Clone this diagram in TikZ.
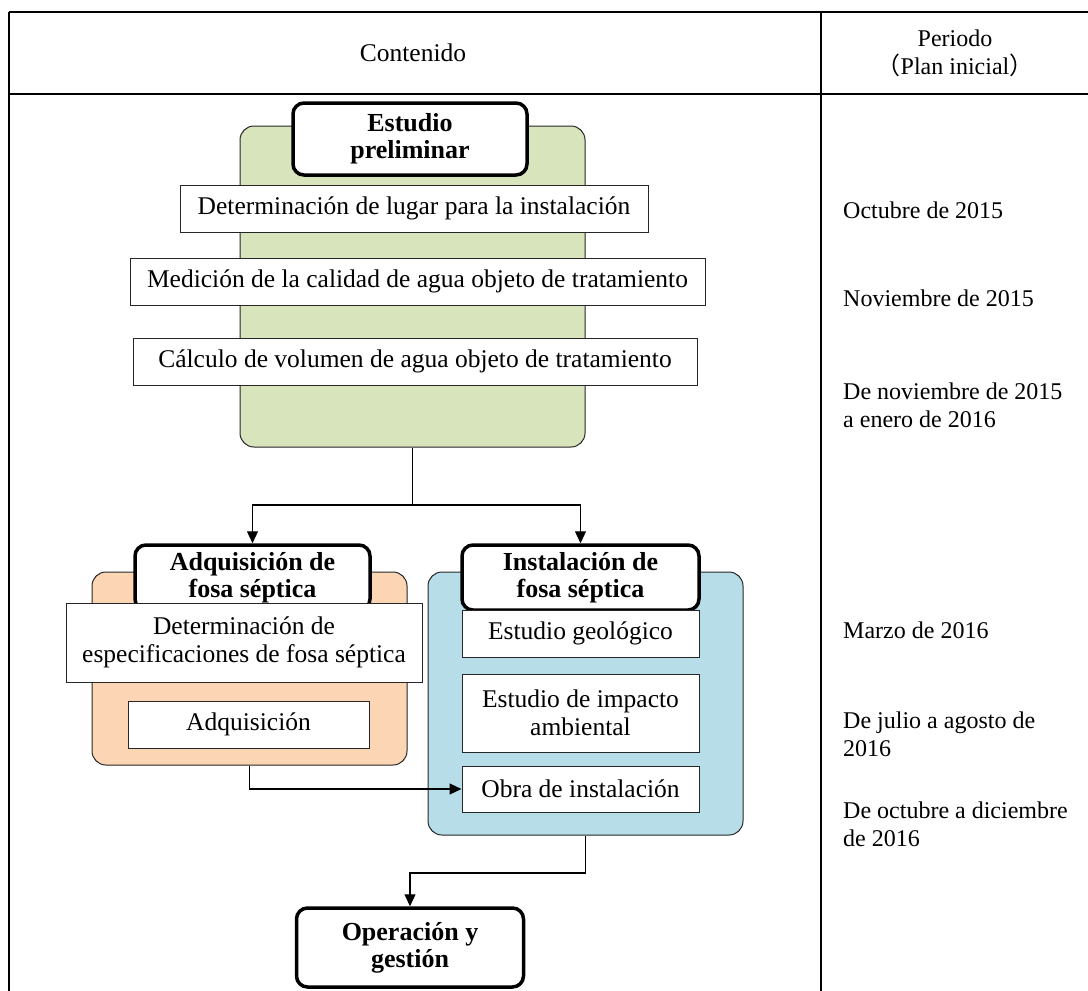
\documentclass[tikz,border=0pt]{standalone}
\usepackage{fontspec}
\setmainfont{Liberation Serif}
\newfontfamily\cjk{Noto Sans CJK JP}
\usetikzlibrary{arrows.meta}
\begin{document}
\begin{tikzpicture}[x=1pt,y=-1pt,
  every node/.style={font=\fontsize{24}{28}\selectfont},
  cont/.style={draw=black!85, line width=1pt, rounded corners=14pt, inner sep=0pt},
  titlebox/.style={draw=black, line width=3.5pt, rounded corners=11pt, fill=white, inner sep=0pt, align=center, font=\fontsize{26}{27}\selectfont\bfseries},
  stepbox/.style={draw=black!85, line width=1pt, fill=white, inner sep=0pt, align=center, font=\fontsize{25.5}{27.5}\selectfont},
  conn/.style={line width=1.2pt, -{Triangle[length=12pt,width=11pt]}},
  plain/.style={line width=1.2pt},
  period/.style={anchor=west, align=left, inner sep=0pt},
  frame/.style={line width=1.8pt}
]
\useasboundingbox (0,0) rectangle (1088,991);
\fill[white] (0,0) rectangle (1088,991);

% table frame
\coordinate (tl) at (9,12);
\coordinate (tr) at (1088,12);
\coordinate (hl) at (9,94);
\coordinate (hr) at (1088,94);
\coordinate (bl) at (9,991);
\coordinate (vt) at (821,12);
\coordinate (vb) at (821,991);
\draw[frame] (tl) -- (tr);
\draw[frame] (tl) -- (bl);
\draw[frame] (vt) -- (vb);
\draw[line width=2.4pt] (hl) -- (hr);

% header
\node (hcont) at (413,53) [font=\fontsize{25.5}{28}\selectfont] {Contenido};
\node (hper) at (955,53) [align=center] {Periodo\\{\cjk（}Plan inicial{\cjk）}};

% containers
\node[cont, fill={rgb,255:red,216;green,228;blue,188}, minimum width=345pt, minimum height=321pt] (green) at (412.5,286.5) {};
\node[cont, fill={rgb,255:red,252;green,213;blue,180}, minimum width=315pt, minimum height=193pt] (orange) at (249.5,668.5) {};
\node[cont, fill={rgb,255:red,183;green,221;blue,232}, minimum width=315pt, minimum height=263pt] (blue) at (585.5,703.5) {};

% title boxes
\node[titlebox, minimum width=234pt, minimum height=72pt] (ep) at (410,139) {Estudio\\preliminar};
\node[titlebox, minimum width=235pt, minimum height=65pt] (adqT) at (252.5,577.5) {Adquisición de\\fosa séptica};
\node[titlebox, minimum width=237pt, minimum height=65pt] (instT) at (580.5,577.5) {Instalación de\\fosa séptica};
\node[titlebox, minimum width=227pt, minimum height=79pt] (oper) at (410,947.5) {Operación y\\gestión};

% step boxes
\node[stepbox, minimum width=468pt, minimum height=47pt] (b1) at (414,208.5) {Determinación de lugar para la instalación};
\node[stepbox, minimum width=575pt, minimum height=47pt] (b2) at (417.5,281.5) {Medición de la calidad de agua objeto de tratamiento};
\node[stepbox, minimum width=564pt, minimum height=47pt] (b3) at (415,361.5) {Cálculo de volumen de agua objeto de tratamiento};
\node[stepbox, minimum width=356pt, minimum height=79pt] (det) at (244,642.5) {Determinación de\\especificaciones de fosa séptica};
\node[stepbox, minimum width=241pt, minimum height=47pt] (adq) at (248.5,724.5) {Adquisición};
\node[stepbox, minimum width=237pt, minimum height=47pt] (geo) at (580.5,633.5) {Estudio geológico};
\node[stepbox, minimum width=237pt, minimum height=78pt] (imp) at (580.5,713) {Estudio de impacto\\ambiental};
\node[stepbox, minimum width=237pt, minimum height=46pt] (obra) at (580.5,789) {Obra de instalación};

% connectors
\coordinate (bj) at (412.5,505);
\draw[plain] (green.south) -- (bj);
\draw[conn] (bj) -| (adqT.north);
\draw[conn] (bj) -| (instT.north);
\draw[conn] (orange.south) |- (obra.west);
\coordinate (bk) at (585.5,873);
\draw[conn] (blue.south) -- (bk) -| (oper.north);

% periods
\node[period] (p1) at (843,210) {Octubre de 2015};
\node[period] (p2) at (843,298) {Noviembre de 2015};
\node[period] (p3) at (843,405) {De noviembre de 2015\\a enero de 2016};
\node[period] (p4) at (843,630) {Marzo de 2016};
\node[period] (p5) at (843,734) {De julio a agosto de\\2016};
\node[period] (p6) at (843,824) {De octubre a diciembre\\de 2016};
\end{tikzpicture}
\end{document}
